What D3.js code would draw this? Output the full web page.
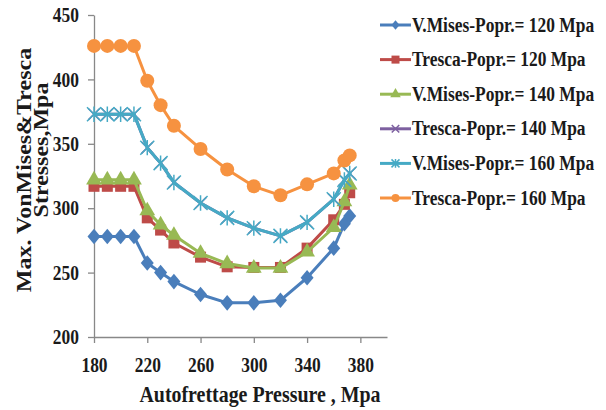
<!DOCTYPE html>
<html>
<head>
<meta charset="utf-8">
<script src="https://cdn.jsdelivr.net/npm/d3@7"></script>
<style>
  body { margin: 0; background: #fff; }
  text { font-family: "Liberation Serif", "Times New Roman", serif; font-weight: bold; fill: #1a1a1a; }
  .axis path, .axis line { stroke: #888; stroke-width: 1.3; }
</style>
</head>
<body>
<div id="chart"></div>
<script>
const width = 606;
const height = 410;

// pressure values (x) and series values
const pressure = [180, 190, 200, 210, 220, 230, 240, 260, 280, 300, 320, 340, 360, 368, 372];
const vmises120 = [278, 278, 278, 278, 257.5, 250, 243, 233, 226.5, 226.5, 228.5, 246, 269, 288, 294];
const tresca120 = [317, 317, 317, 317, 292.5, 283, 273, 262, 254.5, 254, 254, 269, 291, 303, 312];
const vmises140 = [322, 322, 322, 322, 298, 287, 279, 265, 257, 253.5, 253.5, 266, 285, 305, 318];
const tresca140 = [373, 373, 373, 373, 347, 335, 320, 304, 292.5, 284.5, 278.5, 289, 307, 322, 327];
const vmises160 = [373, 373, 373, 373, 347, 335, 320, 304, 292.5, 284.5, 278.5, 289, 307, 322, 327];
const tresca160 = [426, 426, 426, 426, 399, 380, 364, 346, 330, 317, 310, 318.5, 327, 337, 341];

const seriesNames = [
  "V.Mises-Popr.= 120 Mpa",
  "Tresca-Popr.= 120 Mpa",
  "V.Mises-Popr.= 140 Mpa",
  "Tresca-Popr.= 140 Mpa",
  "V.Mises-Popr.= 160 Mpa",
  "Tresca-Popr.= 160 Mpa"
];
const seriesValues = [vmises120, tresca120, vmises140, tresca140, vmises160, tresca160];
const colors = ["#4A7EBB", "#BE4B48", "#98B954", "#7D60A0", "#46AAC5", "#F69240"];
const markers = ["diamond", "square", "triangle", "x", "star", "circle"];

const yTicks = [200, 250, 300, 350, 400, 450];
const xTicks = [180, 220, 260, 300, 340, 380];

// the source picture is squeezed sideways, so the text is too
const squeeze = 0.83;

const series = seriesNames.map((name, i) => ({
  name: name,
  color: colors[i],
  marker: markers[i],
  values: pressure.map((p, j) => ({ x: p, y: seriesValues[i][j] }))
}));

const svg = d3.select("#chart")
  .append("svg")
  .attr("width", width)
  .attr("height", height);

function squish(sel) {
  sel.each(function() {
    const w = this.getComputedTextLength();
    d3.select(this).attr("textLength", w * squeeze).attr("lengthAdjust", "spacingAndGlyphs");
  });
}

const xScale = d3.scaleLinear().domain([180, 400]).range([94, 387]);
const yScale = d3.scaleLinear().domain([200, 450]).range([337, 15]);

// axes
svg.append("g")
  .attr("class", "axis")
  .attr("transform", "translate(0,337)")
  .call(d3.axisBottom(xScale).tickValues(xTicks).tickSizeInner(6).tickSizeOuter(0).tickPadding(14))
  .call(g => g.selectAll("text").attr("font-family", null).style("font-size", "21px").call(squish));

svg.append("g")
  .attr("class", "axis")
  .attr("transform", "translate(94,0)")
  .call(d3.axisLeft(yScale).tickValues(yTicks).tickSizeInner(6).tickSizeOuter(0).tickPadding(9))
  .call(g => g.selectAll("text").attr("font-family", null).style("font-size", "21px").call(squish));

// markers
function drawMarker(g, type, color, s) {
  if (type === "diamond") {
    const w = s * 0.5, h = s * 0.6;
    g.append("path").attr("d", `M0,${-h}L${w},0L0,${h}L${-w},0Z`).attr("fill", color);
  } else if (type === "square") {
    g.append("rect").attr("x", -s / 2).attr("y", -s / 2).attr("width", s).attr("height", s).attr("fill", color);
  } else if (type === "triangle") {
    g.append("path").attr("d", d3.symbol(d3.symbolTriangle, s * s * 0.75)()).attr("fill", color);
  } else if (type === "x") {
    g.append("path").attr("d", d3.symbol(d3.symbolX, s * s * 0.6)()).attr("stroke", color).attr("stroke-width", 1.5).attr("fill", "none");
  } else if (type === "star") {
    const r = s / 2;
    g.append("path").attr("d", `M${-r},${-r}L${r},${r}M${-r},${r}L${r},${-r}M0,${-r * 1.1}L0,${r * 1.1}`)
      .attr("stroke", color).attr("stroke-width", 1.5).attr("fill", "none");
  } else {
    g.append("circle").attr("r", s / 2).attr("fill", color);
  }
}

const markerSize = { diamond: 13, square: 11, triangle: 12, x: 12, star: 14, circle: 14 };

const line = d3.line().x(d => xScale(d.x)).y(d => yScale(d.y));

series.forEach(s => {
  svg.append("path")
    .datum(s.values)
    .attr("fill", "none")
    .attr("stroke", s.color)
    .attr("stroke-width", 3)
    .attr("stroke-linejoin", "round")
    .attr("d", line);

  s.values.forEach(d => {
    const g = svg.append("g").attr("transform", `translate(${xScale(d.x)},${yScale(d.y)})`);
    drawMarker(g, s.marker, s.color, markerSize[s.marker]);
  });
});

// axis titles
svg.append("text")
  .attr("transform", `translate(260,402) scale(${squeeze},1)`)
  .attr("text-anchor", "middle")
  .style("font-size", "24px")
  .text("Autofrettage Pressure , Mpa");

svg.append("text")
  .attr("transform", `translate(31,170) scale(${squeeze},1) rotate(-90)`)
  .attr("text-anchor", "middle")
  .style("font-size", "24px")
  .text("Max. VonMises&Tresca");

svg.append("text")
  .attr("transform", `translate(48,150) scale(${squeeze},1) rotate(-90)`)
  .attr("text-anchor", "middle")
  .style("font-size", "24px")
  .text("Stresses,Mpa");

// legend
const legend = svg.append("g").attr("transform", "translate(380,25)");
series.forEach((s, i) => {
  const row = legend.append("g").attr("transform", `translate(0,${i * 34.6})`);
  row.append("line").attr("x1", 0).attr("x2", 31).attr("y1", 0).attr("y2", 0)
    .attr("stroke", s.color).attr("stroke-width", 3);
  const m = row.append("g").attr("transform", "translate(15.5,0)");
  drawMarker(m, s.marker, s.color, 8);
  row.append("text")
    .attr("transform", `translate(32,6.5) scale(${squeeze},1)`)
    .style("font-size", "21px")
    .text(s.name);
});
</script>
</body>
</html>
